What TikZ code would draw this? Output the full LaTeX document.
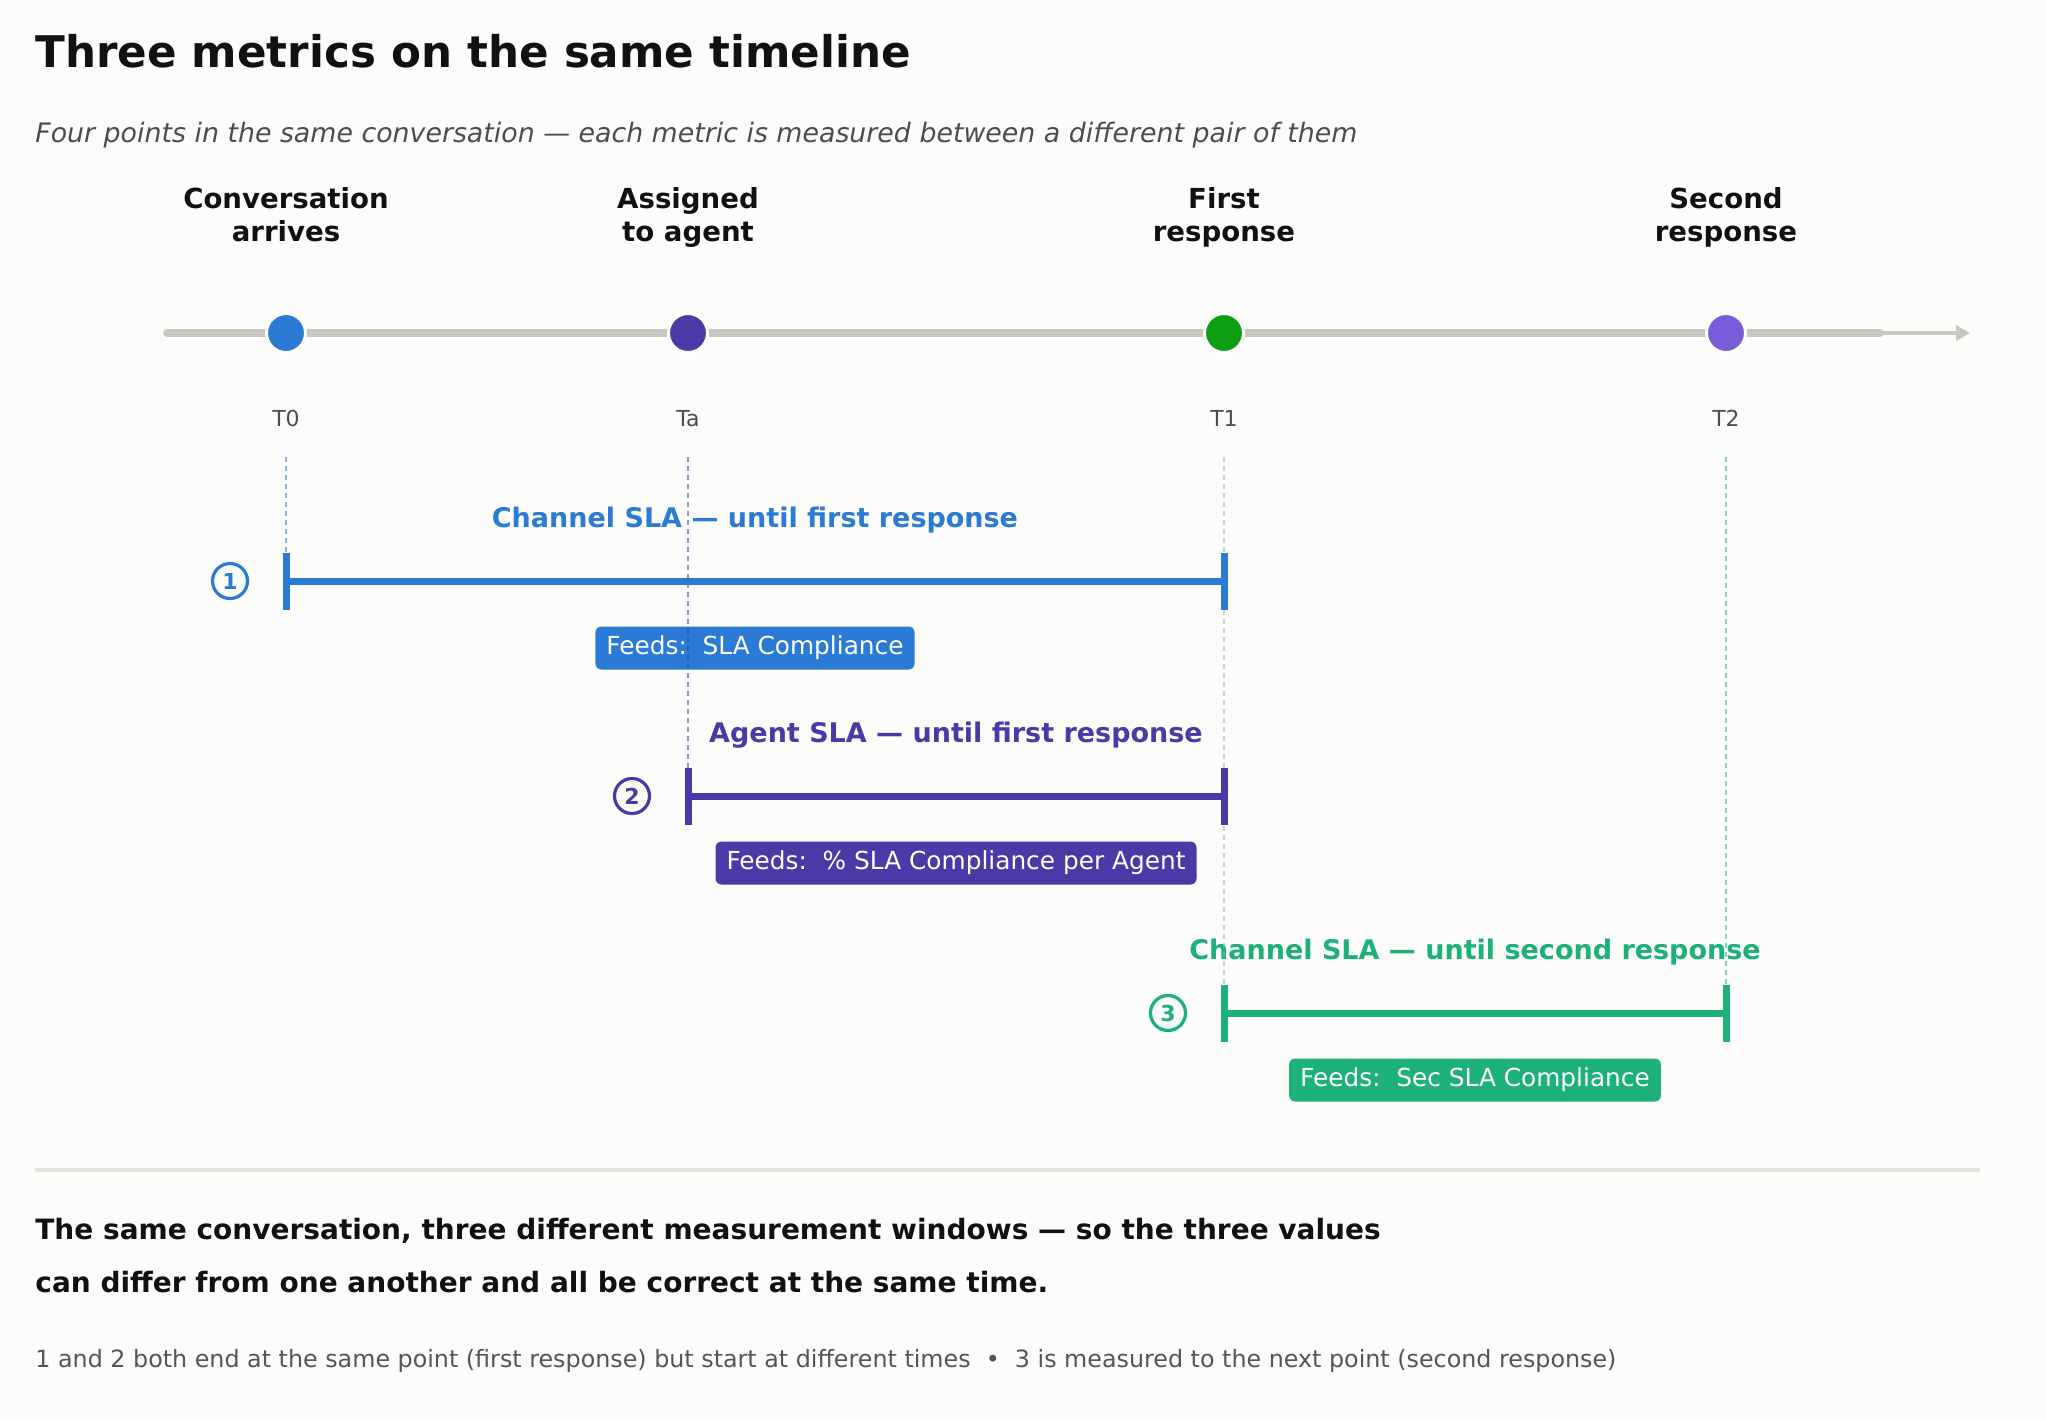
\documentclass[tikz,border=0pt]{standalone}
\usepackage{fontspec}
\setmainfont{DejaVu Sans}
\usetikzlibrary{arrows.meta}

\definecolor{bgpaper}{HTML}{FCFCFA}
\definecolor{ink}{HTML}{111111}
\definecolor{subgray}{HTML}{4D4D4D}
\definecolor{notegray}{HTML}{555555}
\definecolor{axisgray}{HTML}{C8C8C0}
\definecolor{rulegray}{HTML}{E3E3DC}
\definecolor{guidegray}{HTML}{AAAAAA}
\definecolor{chanblue}{HTML}{2A7AD6}
\definecolor{agentpurple}{HTML}{4A3AA7}
\definecolor{firstgreen}{HTML}{0C9F12}
\definecolor{secondlav}{HTML}{7B5CD8}
\definecolor{secteal}{HTML}{1CB07A}

\begin{document}
\begin{tikzpicture}[x=0.5pt,y=-0.5pt,
    plaintext/.style={anchor=base west,inner sep=0pt},
    headlbl/.style={align=center,anchor=base,text=ink,font=\bfseries\fontsize{13.8}{16.5}\selectfont},
    taglbl/.style={anchor=base,text=subgray,font=\fontsize{11}{13}\selectfont},
    dot/.style={circle,fill=#1,draw=white,line width=1.5pt,minimum size=19.5pt,inner sep=0pt},
    guide/.style={draw=#1,line width=1pt,dash pattern=on 2.5pt off 2pt,opacity=0.55},
    barline/.style={draw=#1,line width=3.5pt},
    barlbl/.style={text=#1,font=\bfseries\fontsize{13.5}{16}\selectfont},
    feeds/.style={fill=#1,text=white,rounded corners=3pt,inner xsep=5.5pt,inner ysep=0pt,
        minimum height=21.5pt,font=\fontsize{12.4}{14}\selectfont},
    numlbl/.style={circle,draw=#1,line width=1.6pt,text=#1,minimum size=17.5pt,inner sep=0pt,
        font=\bfseries\fontsize{11}{12}\selectfont}
  ]
  \fill[bgpaper] (0,0) rectangle (2046,1421);

  % heading
  \node[plaintext,text=ink,font=\bfseries\fontsize{21.8}{26}\selectfont] (title) at (35,67) {Three metrics on the same timeline};
  \node[plaintext,text=subgray,font=\itshape\fontsize{13.4}{16}\selectfont] (subtitle) at (35,142) {Four points in the same conversation — each metric is measured between a different pair of them};

  % timeline
  \def\axisy{333}
  \coordinate (axisstart) at (167,\axisy);
  \coordinate (axisstop) at (1880,\axisy);
  \coordinate (axistip) at (1970,\axisy);
  \draw[axisgray,line width=4pt,line cap=round] (axisstart) -- (axisstop);
  \draw[axisgray,line width=2pt,-{Triangle[length=7pt,width=7.5pt]}] (axisstop) -- (axistip);

  \foreach \pt/\x/\col/\head/\tag in {t0/286/chanblue/{Conversation\\arrives}/T0,
      ta/688/agentpurple/{Assigned\\to agent}/Ta,
      t1/1224/firstgreen/{First\\response}/T1,
      t2/1726/secondlav/{Second\\response}/T2}
  {
    \node[headlbl] (\pt-head) at (\x,241) {\head};
    \node[dot=\col] (\pt) at (\x,\axisy) {};
    \node[taglbl] (\pt-tag) at (\x,426) {\tag};
    \coordinate (\pt-guide) at (\x,457);
  }

  % measurement windows
  \foreach \n/\from/\to/\y/\col/\lbl/\feed in {1/286/1224/581/chanblue/{Channel SLA — until first response}/{SLA Compliance},
      2/688/1224/796/agentpurple/{Agent SLA — until first response}/{\% SLA Compliance per Agent},
      3/1224/1726/1013/secteal/{Channel SLA — until second response}/{Sec SLA Compliance}}
  {
    \coordinate (bar\n-s) at (\from,\y);
    \coordinate (bar\n-e) at (\to,\y);
    \path (bar\n-s) -- (bar\n-e)
      node[midway,yshift=30.5pt,barlbl=\col] (bar\n-lbl) {\lbl}
      node[midway,yshift=-33.5pt,feeds=\col] (bar\n-feed) {Feeds:\ \ \feed};
    \node[numlbl=\col] (bar\n-num) at ([xshift=-28pt]bar\n-s) {\n};
  }

  \draw[guide=chanblue] (t0-guide) -- ([yshift=14.25pt]bar1-s);
  \draw[guide=agentpurple] (ta-guide) -- ([yshift=14.25pt]bar2-s);
  \draw[guide=guidegray] (t1-guide) -- ([yshift=14.25pt]bar3-s);
  \draw[guide=secteal] (t2-guide) -- ([yshift=14.25pt]bar3-e);

  \foreach \n/\col in {1/chanblue,2/agentpurple,3/secteal}
  {
    \draw[barline=\col] (bar\n-s) -- (bar\n-e);
    \draw[barline=\col] ([yshift=14.25pt]bar\n-s) -- ([yshift=-14.25pt]bar\n-s);
    \draw[barline=\col] ([yshift=14.25pt]bar\n-e) -- ([yshift=-14.25pt]bar\n-e);
  }

  % summary
  \coordinate (rule-l) at (35,1170);
  \coordinate (rule-r) at (1980,1170);
  \draw[rulegray,line width=2pt] (rule-l) -- (rule-r);
  \node[plaintext,text=ink,font=\bfseries\fontsize{14}{16}\selectfont] (summary-a) at (35,1239) {The same conversation, three different measurement windows — so the three values};
  \node[plaintext,text=ink,font=\bfseries\fontsize{14}{16}\selectfont] (summary-b) at (35,1292) {can differ from one another and all be correct at the same time.};
  \node[plaintext,text=notegray,font=\fontsize{11.9}{14}\selectfont] (footnote) at (35,1367) {1 and 2 both end at the same point (first response) but start at different times\ \ •\ \ 3 is measured to the next point (second response)};
\end{tikzpicture}
\end{document}
